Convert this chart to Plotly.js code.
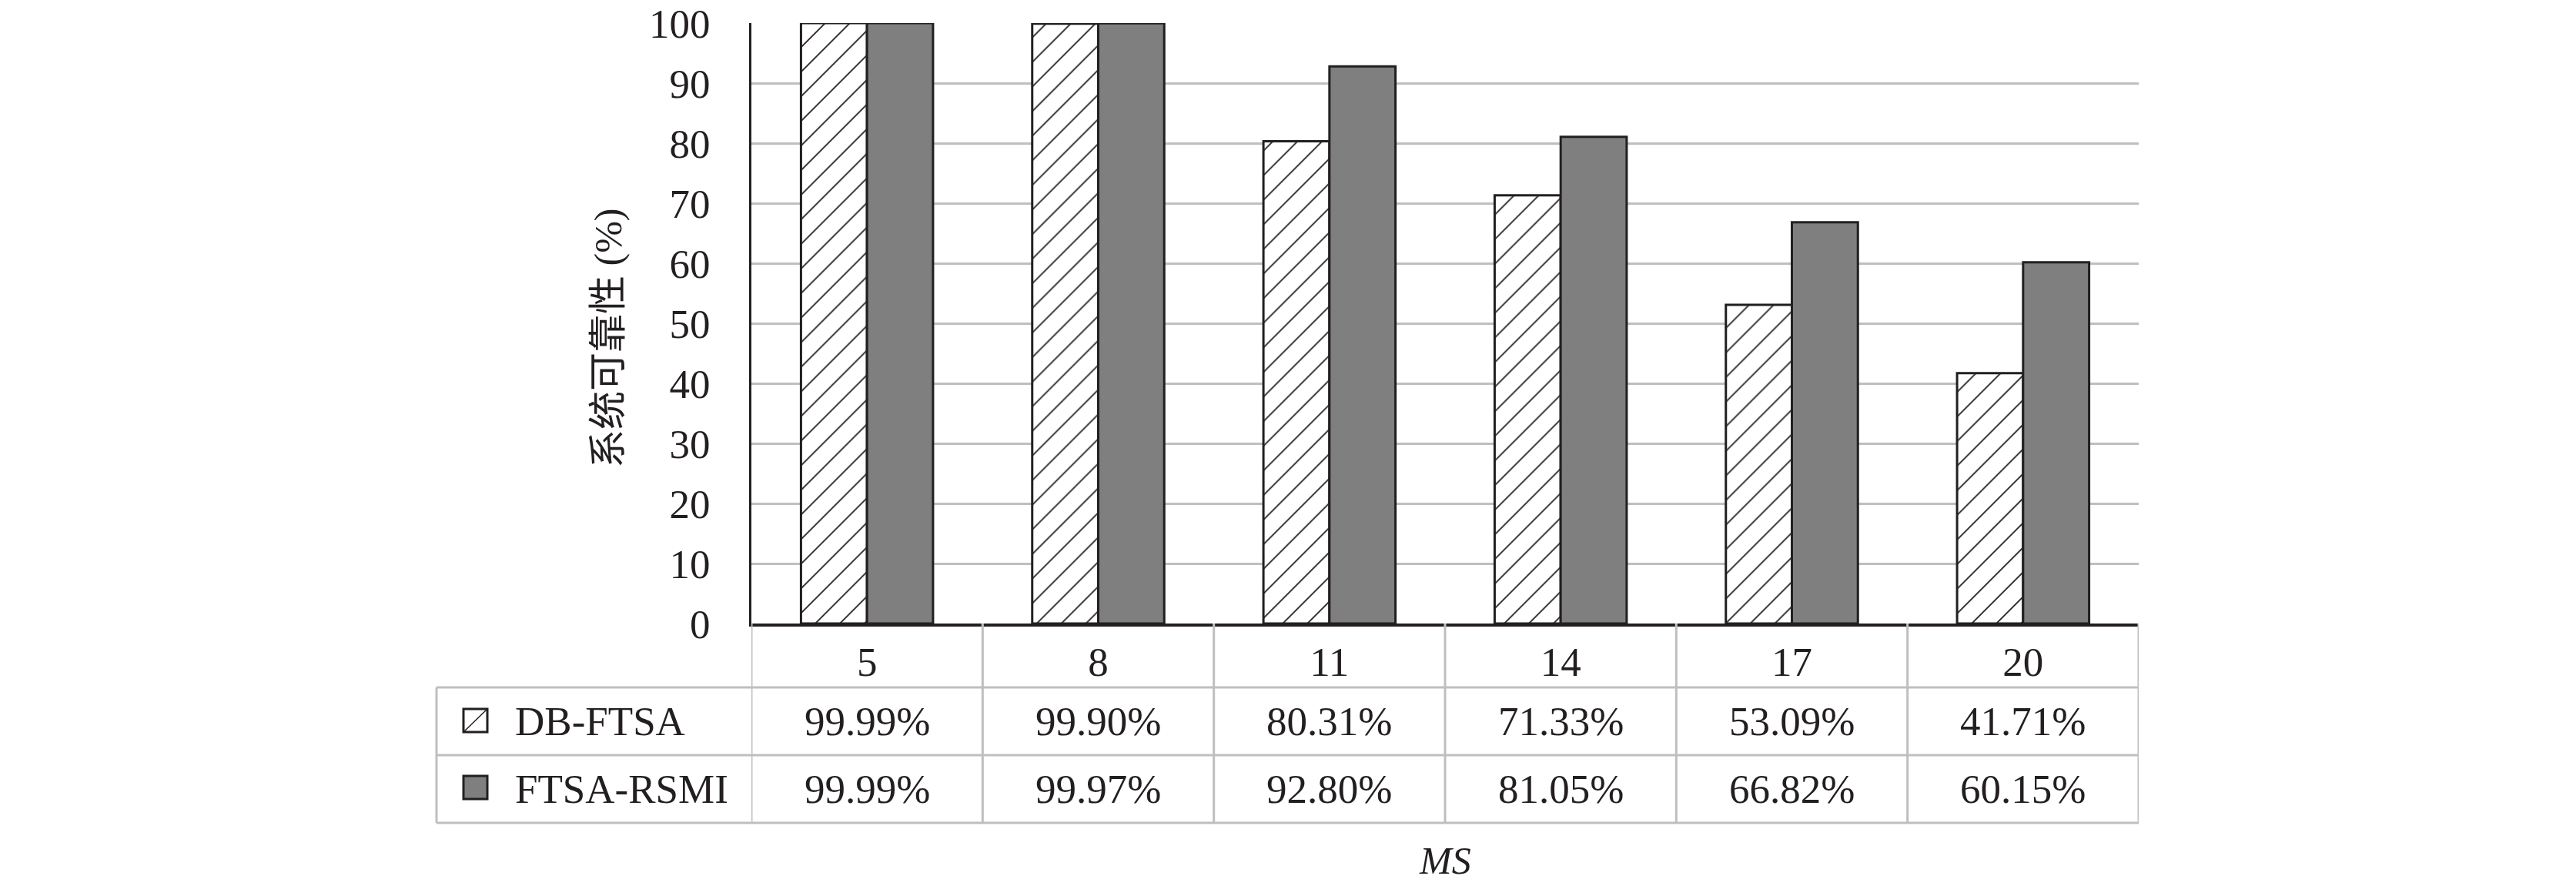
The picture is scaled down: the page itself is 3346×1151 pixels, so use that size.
<!DOCTYPE html>
<html>
<head>
<meta charset="utf-8">
<script src="https://cdn.plot.ly/plotly-3.0.1.min.js"></script>
<style>html,body{margin:0;padding:0;background:#fff;}</style>
</head>
<body>
<div id="chart" style="width:3346px;height:1151px;"></div>
<script>
// ---- data ----
const categories = ['5', '8', '11', '14', '17', '20'];
const seriesNames = ['DB-FTSA', 'FTSA-RSMI'];
const dbFtsa = [99.99, 99.90, 80.31, 71.33, 53.09, 41.71];
const ftsaRsmi = [99.99, 99.97, 92.80, 81.05, 66.82, 60.15];
const yTickVals = [0, 10, 20, 30, 40, 50, 60, 70, 80, 90, 100];
const yTitle = '系统可靠性 (%)';
const xTitle = 'MS';

// ---- layout geometry (pixels) ----
const W = 3346, H = 1151;
const L = 976, R = 2778, T = 30, B = 810;
const PW = R - L, PH = B - T;
const px = v => (v - L) / PW;      // pixel x -> paper
const py = v => (B - v) / PH;      // pixel y -> paper

const serif = 'Liberation Serif, Times New Roman, Noto Sans CJK SC, serif';
const textColor = '#231f20';
const gridColor = '#bfbfbf';
const FS = 53;

const traces = [
  {
    type: 'bar', name: seriesNames[0], x: categories, y: dbFtsa,
    marker: {
      color: '#ffffff',
      line: {color: '#231f20', width: 3},
      pattern: {shape: '/', fgcolor: '#231f20', bgcolor: '#ffffff', size: 22.6, solidity: 0.08}
    },
    hoverinfo: 'skip'
  },
  {
    type: 'bar', name: seriesNames[1], x: categories, y: ftsaRsmi,
    marker: {color: '#7f7f7f', line: {color: '#231f20', width: 3}},
    hoverinfo: 'skip'
  }
];

// ---- table (rows below the plot) ----
const rowTop = 893, rowMid = 981, rowBot = 1069, tableLeft = 567;
const shapes = [];
const gl = {color: gridColor, width: 3};
// horizontal table lines
[rowTop, rowMid, rowBot].forEach(yy => {
  shapes.push({type: 'line', xref: 'paper', yref: 'paper', x0: px(tableLeft), x1: 1, y0: py(yy), y1: py(yy), line: gl, layer: 'above'});
});
// left border of legend column
shapes.push({type: 'line', xref: 'paper', yref: 'paper', x0: px(tableLeft), x1: px(tableLeft), y0: py(rowTop), y1: py(rowBot), line: gl});
// category column dividers
for (let i = 0; i <= categories.length; i++) {
  shapes.push({type: 'line', xref: 'x', yref: 'paper', x0: i - 0.5, x1: i - 0.5, y0: 0, y1: py(rowBot), line: gl});
}
// legend keys
const keyX0 = 602, keyX1 = 633;
const keyRows = [[921, 951], [1008, 1038]];
shapes.push({type: 'rect', xref: 'paper', yref: 'paper', x0: px(keyX0), x1: px(keyX1), y0: py(keyRows[0][1]), y1: py(keyRows[0][0]),
  fillcolor: '#ffffff', line: {color: '#231f20', width: 3}});
shapes.push({type: 'line', xref: 'paper', yref: 'paper', x0: px(keyX0), x1: px(keyX1), y0: py(keyRows[0][1]), y1: py(keyRows[0][0]),
  line: {color: '#231f20', width: 1.5}});
shapes.push({type: 'rect', xref: 'paper', yref: 'paper', x0: px(keyX0), x1: px(keyX1), y0: py(keyRows[1][1]), y1: py(keyRows[1][0]),
  fillcolor: '#7f7f7f', line: {color: '#231f20', width: 3}});

const annotations = [];
const rowCenters = [(rowTop + rowMid) / 2, (rowMid + rowBot) / 2];
[dbFtsa, ftsaRsmi].forEach((vals, r) => {
  annotations.push({xref: 'paper', yref: 'paper', x: px(667), y: py(rowCenters[r]), xanchor: 'left', yanchor: 'middle',
    text: seriesNames[r], showarrow: false, font: {family: serif, size: FS, color: textColor}});
  vals.forEach((v, i) => {
    annotations.push({xref: 'x', yref: 'paper', x: i, y: py(rowCenters[r]), xanchor: 'center', yanchor: 'middle',
      text: v.toFixed(2) + '%', showarrow: false, font: {family: serif, size: FS, color: textColor}});
  });
});
// axis titles
annotations.push({xref: 'paper', yref: 'paper', x: px(790), y: py(440), xanchor: 'center', yanchor: 'middle', textangle: -90,
  text: yTitle, showarrow: false, font: {family: serif, size: 50, color: textColor}});
annotations.push({xref: 'paper', yref: 'paper', x: px(1877), y: py(1118), xanchor: 'center', yanchor: 'middle',
  text: '<i>' + xTitle + '</i>', showarrow: false, font: {family: serif, size: 50, color: textColor}});

const layout = {
  width: W, height: H,
  margin: {l: L, r: W - R, t: T, b: H - B, pad: 0},
  paper_bgcolor: '#ffffff', plot_bgcolor: '#ffffff',
  showlegend: false,
  barmode: 'group', bargap: 0.429, bargroupgap: 0,
  font: {family: serif, size: FS, color: textColor},
  xaxis: {
    type: 'category', range: [-0.5, categories.length - 0.5],
    showline: true, linecolor: '#231f20', linewidth: 4,
    showgrid: false, zeroline: false, ticks: '',
    tickfont: {family: serif, size: FS, color: textColor},
    ticklabelstandoff: 0
  },
  yaxis: {
    range: [0, 100], tickvals: yTickVals,
    showline: true, linecolor: '#231f20', linewidth: 3,
    showgrid: true, gridcolor: gridColor, gridwidth: 3,
    zeroline: false, ticks: '',
    tickfont: {family: serif, size: FS, color: textColor},
    ticklabelstandoff: 40
  },
  shapes: shapes,
  annotations: annotations
};

Plotly.newPlot('chart', traces, layout, {displayModeBar: false, staticPlot: true});
</script>
</body>
</html>
